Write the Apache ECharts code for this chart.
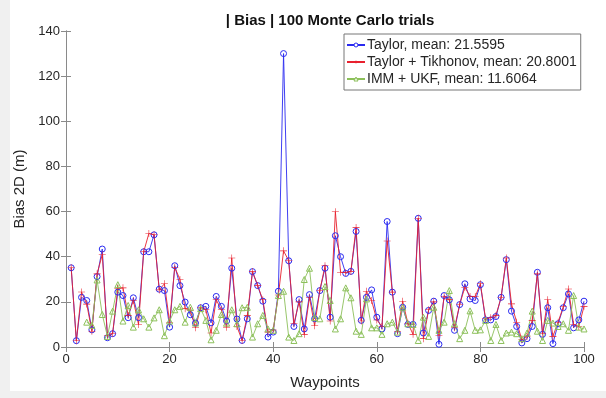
<!DOCTYPE html>
<html>
<head>
<meta charset="utf-8">
<script src="https://cdn.jsdelivr.net/npm/echarts@6/dist/echarts.min.js"></script>
<style>
  html, body { margin: 0; padding: 0; background: #f0f0f0; }
  #wrap { position: absolute; left: 10px; top: 0; width: 596px; height: 391px; background: #fff; }
  #chart { position: absolute; left: 0; top: 0; width: 606px; height: 398px; }
</style>
</head>
<body>
<div id="wrap"></div>
<div id="chart"></div>
<script>
// 航点编号 1..100
const waypoints = []
for (let i = 1; i <= 100; i++) waypoints.push(i)

// Taylor
const taylor = [
  35.1, 2.8, 22, 20.6, 7.6, 31.2, 43.4, 4.1, 5.9, 24.3,
  22.8, 13, 21.8, 13, 42.2, 42.2, 49.7, 25.6, 25, 8.8,
  36, 27.2, 19.9, 14.3, 10.6, 17.4, 18, 10.7, 22.4, 18,
  11.5, 34.9, 12.4, 2.9, 12.5, 33.4, 27.2, 20.3, 4.4, 6.6,
  24.7, 130, 38.2, 9.1, 21, 8, 23.2, 12.5, 25, 34.9,
  13.2, 49.3, 40, 32.6, 33.5, 51.2, 11.8, 22, 25.3, 13.2,
  8, 55.6, 24.3, 5.9, 17.6, 10, 10, 57, 6.2, 16.2,
  20.3, 1.2, 22.8, 20.9, 7.4, 18.8, 28, 21.3, 20.6, 27.6,
  12, 12, 13.5, 22, 38.7, 15.9, 9.1, 1.8, 3.7, 9.1,
  33.1, 5.6, 17.4, 1.5, 10.3, 17.4, 23.5, 8.5, 12, 20.3
]

// Taylor + Tikhonov
const tikhonov = [
  35.1, 2.8, 24.4, 19, 7, 32.4, 40.9, 5.1, 6, 26,
  26.2, 14, 20.6, 10, 42.2, 50.3, 49.7, 25.3, 28, 11,
  35.3, 29.9, 17, 16.2, 8.5, 17.4, 16.5, 6.2, 20.9, 16.5,
  8.8, 39.4, 9.1, 2.9, 14, 33.4, 27.2, 20.9, 6.6, 7.5,
  23, 42.6, 38.2, 10.3, 20, 5.6, 22, 9.4, 25, 36,
  11.5, 59.9, 33.1, 33, 33.5, 52.9, 11.5, 24.7, 20.6, 12,
  9.1, 47, 24.3, 7, 20.3, 10.5, 5.6, 57, 3.7, 16.5,
  20, 5.1, 22.4, 21, 8.5, 18.8, 26.5, 22.4, 22.4, 28,
  12.5, 13, 14, 22, 39.4, 19.1, 11, 3.2, 4.5, 11.8,
  32.4, 5.9, 20.9, 4.7, 11, 17.8, 25.7, 10, 9.1, 18
]

// IMM + UKF
const immUkf = [
  null, null, null, 11, 9.6, 29.7, 14.4, 4.7, 15.9, 27.6,
  11.5, 18.4, 8.8, 16.5, 12.5, 8.8, 12.9, 16.5, 5, 11.5,
  16.5, 18, 11, 17.6, 10.6, 17, 11.8, 3.2, 7.4, 14.4,
  10.6, 16.5, 10.3, 17.4, 17.6, 4.4, 10.3, 14, 8, 7.4,
  22.8, 24.7, 4.4, 2.9, 5.9, 29.9, 34.9, 13, 12.5, 26.8,
  20.6, 8, 12.5, 26.2, 21.8, 7, 5.6, 21.3, 8.5, 8.5,
  5.6, 10.3, 11, 6.6, 17.6, 10.3, 10, 2.9, 13.2, 4.7,
  17.6, 7.4, 11, 25, 10.3, 3.7, 7.4, 16, 7.4, 7.6,
  11.8, 2.9, 10, 2.9, 6.2, 6.6, 5.9, 3.7, 6.2, 15.9,
  7, 2.9, 11.8, 10.6, 9.1, 10.3, 7.4, 22.8, 8.8, 8
]

const seriesNames = [
  'Taylor, mean: 21.5595',
  'Taylor + Tikhonov, mean: 20.8001',
  'IMM + UKF, mean: 11.6064'
]

const pairs = (vals) => waypoints.map((w, i) => [w, vals[i]])

const FONT = '"Liberation Sans", Arial, sans-serif'
const AXIS_COLOR = '#8a8a8a'
const TEXT_COLOR = '#262626'
const PLUS = 'path://M-0.08,-1H0.08V-0.08H1V0.08H0.08V1H-0.08V0.08H-1V-0.08H-0.08Z'

const BLUE = '#2a2af0'
const RED = '#e8202e'
const GREEN = '#8cc05a'

const myChart = echarts.init(document.getElementById('chart'), null, { renderer: 'canvas' })

const tickStyle = { show: true, inside: true, length: 5, lineStyle: { color: AXIS_COLOR } }

const option = {
  animation: false,
  backgroundColor: 'transparent',
  textStyle: { fontFamily: FONT },
  title: {
    text: '| Bias | 100 Monte Carlo trials',
    left: 325,
    textAlign: 'center',
    top: 8,
    textStyle: { fontSize: 15, fontWeight: 'bold', color: '#111', fontFamily: FONT }
  },
  grid: { left: 66, right: 22, top: 31, bottom: 51 },
  legend: {
    orient: 'vertical',
    left: 344,
    top: 34,
    padding: [4, 4, 4, 2],
    itemGap: 3,
    itemWidth: 18,
    itemHeight: 5,
    borderColor: '#777',
    borderWidth: 1,
    backgroundColor: '#fff',
    borderRadius: 0,
    textStyle: { fontSize: 14, color: TEXT_COLOR, fontFamily: FONT, padding: [0, 0, 0, -3] },
    data: [
      { name: seriesNames[0], itemStyle: { color: '#fff', borderColor: BLUE, borderWidth: 1 } },
      { name: seriesNames[1], itemStyle: { color: RED, borderWidth: 0 } },
      { name: seriesNames[2], itemStyle: { color: '#fff', borderColor: GREEN, borderWidth: 1 } }
    ]
  },
  xAxis: [
    {
      type: 'value',
      min: 0,
      max: 100,
      interval: 20,
      name: 'Waypoints',
      nameLocation: 'middle',
      nameGap: 28,
      nameTextStyle: { fontSize: 15, color: TEXT_COLOR, fontFamily: FONT },
      axisLine: { show: true, lineStyle: { color: AXIS_COLOR } },
      axisTick: tickStyle,
      axisLabel: { fontSize: 13, color: TEXT_COLOR, margin: 6, fontFamily: FONT },
      splitLine: { show: false }
    },
    {
      type: 'value',
      position: 'top',
      min: 0,
      max: 100,
      interval: 20,
      axisLine: { show: true, lineStyle: { color: AXIS_COLOR } },
      axisTick: tickStyle,
      axisLabel: { show: false },
      splitLine: { show: false }
    }
  ],
  yAxis: [
    {
      type: 'value',
      min: 0,
      max: 140,
      interval: 20,
      name: 'Bias 2D (m)',
      nameLocation: 'middle',
      nameGap: 35,
      nameTextStyle: { fontSize: 15, color: TEXT_COLOR, fontFamily: FONT },
      axisLine: { show: true, lineStyle: { color: AXIS_COLOR } },
      axisTick: tickStyle,
      axisLabel: { fontSize: 13, color: TEXT_COLOR, margin: 6, fontFamily: FONT },
      splitLine: { show: false }
    },
    {
      type: 'value',
      position: 'right',
      min: 0,
      max: 140,
      interval: 20,
      axisLine: { show: true, lineStyle: { color: AXIS_COLOR } },
      axisTick: tickStyle,
      axisLabel: { show: false },
      splitLine: { show: false }
    }
  ],
  series: [
    {
      name: seriesNames[0],
      type: 'line',
      data: pairs(taylor),
      symbol: 'circle',
      symbolSize: 6,
      lineStyle: { color: BLUE, width: 0.9 },
      itemStyle: { color: 'rgba(255,255,255,0)', borderColor: BLUE, borderWidth: 1 }
    },
    {
      name: seriesNames[1],
      type: 'line',
      data: pairs(tikhonov),
      symbol: PLUS,
      symbolSize: 7,
      lineStyle: { color: RED, width: 0.9 },
      itemStyle: { color: RED, borderWidth: 0 }
    },
    {
      name: seriesNames[2],
      type: 'line',
      data: pairs(immUkf),
      connectNulls: false,
      symbol: 'triangle',
      symbolSize: 6,
      lineStyle: { color: GREEN, width: 0.9 },
      itemStyle: { color: 'rgba(255,255,255,0)', borderColor: GREEN, borderWidth: 1 }
    }
  ]
}

myChart.setOption(option)
</script>
</body>
</html>
